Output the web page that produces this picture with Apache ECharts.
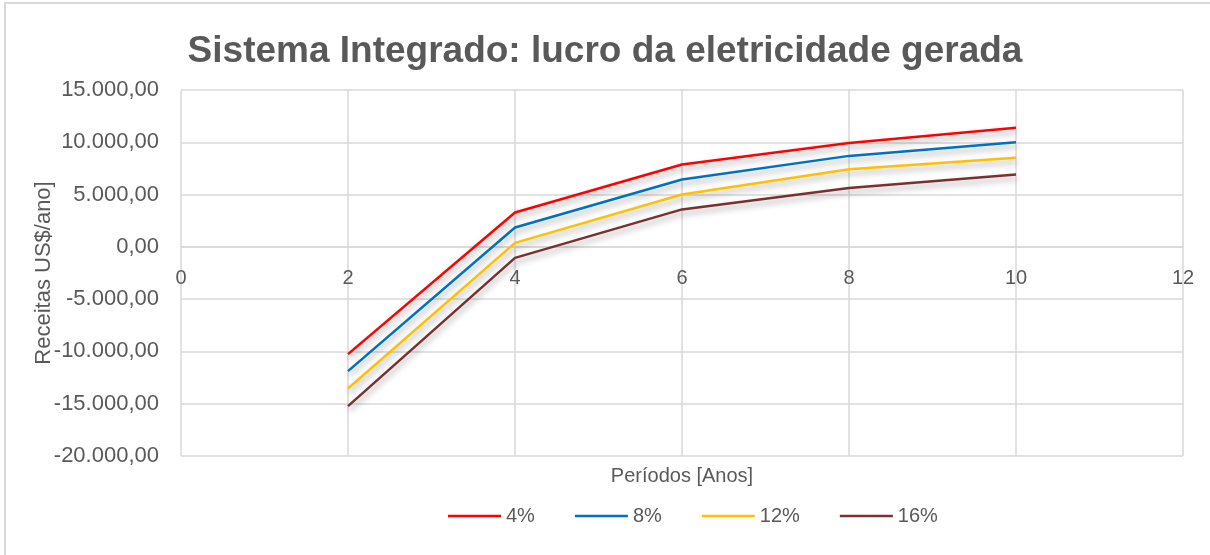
<!DOCTYPE html>
<html>
<head>
<meta charset="utf-8">
<script src="https://cdn.jsdelivr.net/npm/echarts@6/dist/echarts.min.js"></script>
<style>
html,body{margin:0;padding:0;background:#fff;overflow:hidden;}
#frame{position:absolute;left:4px;top:2px;width:1220px;height:570px;border-left:2px solid #d9d9d9;border-top:2px solid #d9d9d9;}
#chart{position:absolute;left:0;top:0;width:1210px;height:555px;}
</style>
</head>
<body>
<div id="frame"></div>
<div id="chart"></div>
<script>
const periods = [2, 4, 6, 8, 10];
const seriesNames = ['4%', '8%', '12%', '16%'];
const rate4 = [-10260, 3290, 7880, 9940, 11380];
const rate8 = [-11880, 1850, 6440, 8700, 10010];
const rate12 = [-13540, 380, 5010, 7420, 8510];
const rate16 = [-15230, -1050, 3580, 5630, 6920];
const colors = ['#ff0000', '#0070c0', '#ffc000', '#7b3030'];
const allValues = [rate4, rate8, rate12, rate16];
const yMin = -20000, yMax = 15000, yStep = 5000;
const xMin = 0, xMax = 12, xStep = 2;

const W = 1210, H = 555;
const gridTop = 90, gridBottom = 99, gridLeft = 181, gridRight = 27;
const plotH = H - gridTop - gridBottom;
// shift x-axis labels up so they sit on the y = 0 line (Excel "crosses at 0")
const zeroOffset = -((0 - yMin) / (yMax - yMin)) * plotH;

const chart = echarts.init(document.getElementById('chart'), null, {renderer: 'canvas'});
const fontFam = '"Liberation Sans", "Open Sans", sans-serif';
const txt = '#595959';
const grid = '#d9d9d9';

function fmt(v) {
  const neg = v < 0;
  const a = Math.abs(v);
  const s = Math.round(a).toString().replace(/\B(?=(\d{3})+(?!\d))/g, '.');
  return (neg ? '-' : '') + s + ',00';
}

chart.setOption({
  animation: false,
  backgroundColor: 'transparent',
  title: {
    text: 'Sistema Integrado: lucro da eletricidade gerada',
    left: 'center', top: 28,
    textStyle: {fontFamily: fontFam, fontSize: 37, fontWeight: 'bold', color: txt}
  },
  legend: {
    bottom: 24, left: 443,
    icon: 'rect',
    itemWidth: 53, itemHeight: 2.5, itemGap: 40,
    textStyle: {fontFamily: fontFam, fontSize: 20, color: txt},
    data: seriesNames
  },
  grid: {left: gridLeft, right: gridRight, top: gridTop, bottom: gridBottom, containLabel: false, outerBoundsMode: 'none'},
  xAxis: [{
    type: 'value', min: xMin, max: xMax, interval: xStep, position: 'bottom',
    offset: zeroOffset,
    axisLine: {show: true, onZero: false, lineStyle: {color: grid, width: 1.5}},
    axisTick: {show: false},
    axisLabel: {fontFamily: fontFam, fontSize: 20, color: txt, margin: 22},
    splitLine: {show: true, lineStyle: {color: grid, width: 1.5}}
  }, {
    type: 'value', min: xMin, max: xMax, interval: xStep, position: 'bottom',
    axisLine: {show: false, onZero: false}, axisTick: {show: false},
    axisLabel: {show: false}, splitLine: {show: false},
    name: 'Períodos [Anos]', nameLocation: 'middle', nameGap: 10,
    nameTextStyle: {fontFamily: fontFam, fontSize: 20, color: txt, verticalAlign: 'top'}
  }],
  yAxis: {
    type: 'value', min: yMin, max: yMax, interval: yStep,
    axisLine: {show: false, onZero: false}, axisTick: {show: false},
    axisLabel: {fontFamily: fontFam, fontSize: 22, color: txt, margin: 22, formatter: fmt},
    splitLine: {show: true, lineStyle: {color: grid, width: 1.5}},
    name: 'Receitas US$/ano]', nameLocation: 'middle', nameGap: 126, nameMoveOverlap: false,
    nameTextStyle: {fontFamily: fontFam, fontSize: 22, color: txt}
  },
  series: seriesNames.map((n, i) => ({
    name: n, type: 'line', xAxisIndex: 0,
    data: periods.map((p, j) => [p, allValues[i][j]]),
    symbol: 'none', showSymbol: false,
    itemStyle: {color: colors[i]},
    lineStyle: {color: colors[i], width: 2.5, shadowColor: 'rgba(0,0,0,0.35)', shadowBlur: 6, shadowOffsetY: 4, shadowOffsetX: 1}
  }))
});
</script>
</body>
</html>
